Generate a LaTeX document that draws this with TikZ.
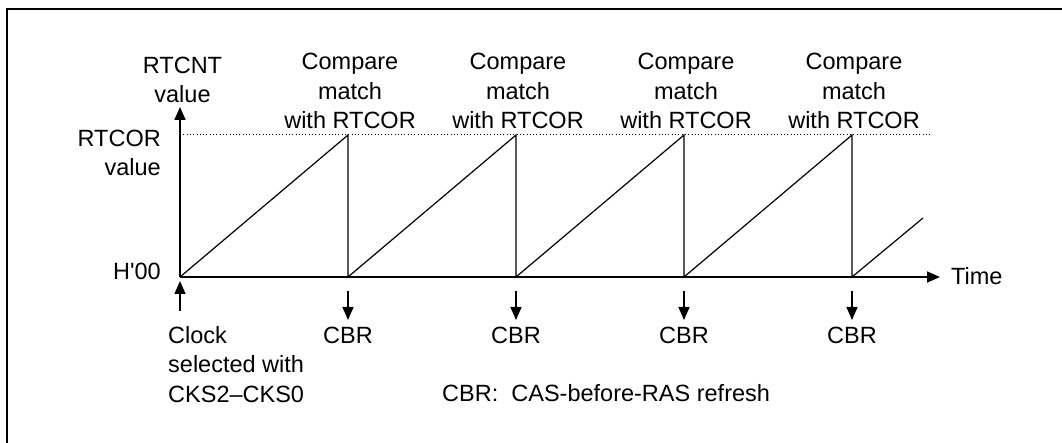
\documentclass[tikz,border=0pt]{standalone}
\usepackage{fontspec}
\setmainfont{Liberation Sans}
\usetikzlibrary{arrows.meta,calc}
\begin{document}
\begin{tikzpicture}[x=1pt,y=-1pt,
  lbl/.style={font=\fontsize{23.5}{29.5}\selectfont, inner sep=0pt},
  axisline/.style={line width=1.6pt},
  sawline/.style={line width=1.2pt},
  bigtip/.style={-{Triangle[length=13pt,width=11pt]}},
  tipped/.style={line width=1.4pt,bigtip},
  refline/.style={line width=1pt,dash pattern=on 1pt off 2.3pt}]
\useasboundingbox (0,0) rectangle (1062,443);
% frame
\coordinate (FL) at (7,443);
\coordinate (FC) at (7,9);
\coordinate (FR) at (1062,9);
\draw[line width=1.5pt] (FL) -- (FC) -- (FR);
% axes
\coordinate (O) at (180,277);
\coordinate (Ytop) at (180,107);
\coordinate (Xend) at (940,277);
\coordinate (D0) at (180,135);
\coordinate (D1) at (930,135);
\draw[refline] (D0) -- (D1);
\draw[axisline,bigtip] (O) -- (Ytop);
\draw[axisline,bigtip] (O) -- (Xend);
% sawtooth
\foreach \i/\x in {1/348,2/516,3/684,4/852}{
  \coordinate (P\i) at (\x,135);
  \coordinate (B\i) at (\x,277);
  \coordinate (A\i) at (\x,291);
  \coordinate (T\i) at (\x,320);
  \coordinate (L\i) at (\x,343.3);
}
\coordinate (E) at (923,218);
\draw[sawline] (O) -- (P1) -- (B1) -- (P2) -- (B2) -- (P3) -- (B3) -- (P4) -- (B4) -- (E);
% CBR arrows and labels
\foreach \i in {1,2,3,4}{
  \draw[tipped] (A\i) -- (T\i);
  \node[lbl,anchor=base] (cbr\i) at (L\i) {CBR};
}
% compare labels
\foreach \i/\x in {1/350,2/518,3/686,4/854}{
  \node[lbl,align=center,anchor=south] (cmp\i) at (\x,129.3) {Compare\\match\\with RTCOR};
}
% clock arrow
\coordinate (C0) at (180,311);
\coordinate (C1) at (180,281);
\draw[tipped] (C0) -- (C1);
\node[lbl,align=left,anchor=north west] (clk) at (168,326) {Clock\\selected with\\CKS2--CKS0};
% axis labels
\node[lbl,align=center,anchor=south] (rtcnt) at (182.5,103.4) {RTCNT\\value};
\node[lbl,align=right,anchor=south east] (rtcor) at (161,176.3) {RTCOR\\value};
\node[lbl,anchor=base east] (h00) at (161,280) {H\textquotesingle 00};
\node[lbl,anchor=base west] (time) at (951,285) {Time};
\node[lbl,anchor=base west] (legend) at (442,401.7) {CBR:\ \ CAS-before-RAS refresh};
\end{tikzpicture}
\end{document}
